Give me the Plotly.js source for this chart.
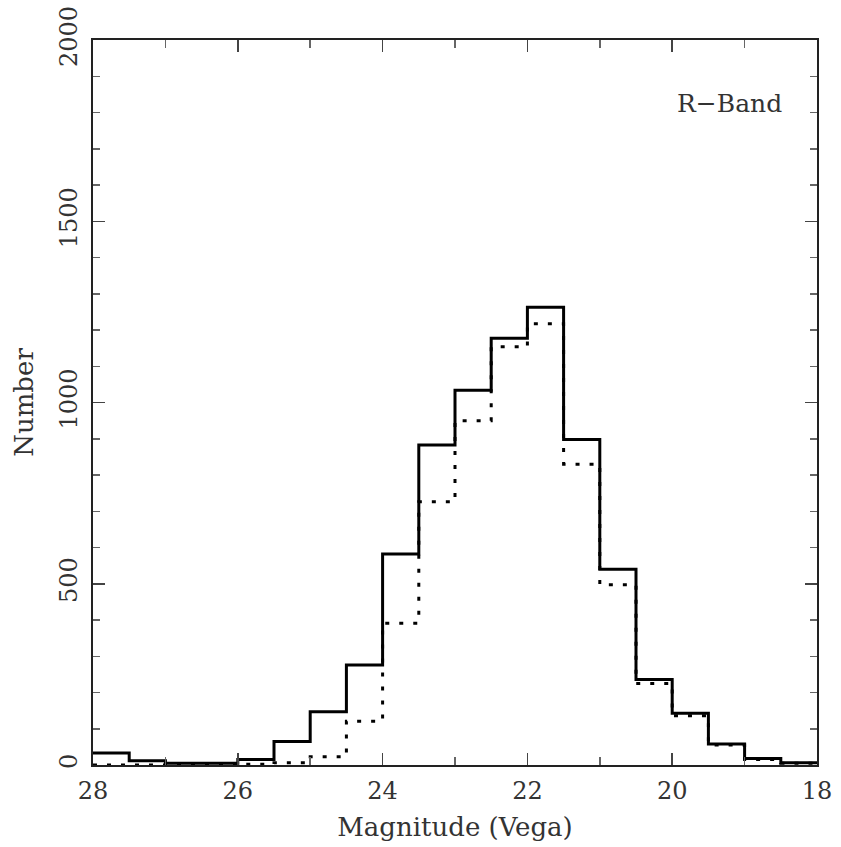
<!DOCTYPE html>
<html>
<head>
<meta charset="utf-8">
<script src="https://cdn.plot.ly/plotly-3.0.1.min.js"></script>
<style>html,body{margin:0;padding:0;background:#fff;}#chart{width:841px;height:847px;}</style>
</head>
<body>
<div id="chart"></div>
<script>
// Bin edges (magnitude, Vega), 0.5 mag bins
var binEdges = [28, 27.5, 27, 26.5, 26, 25.5, 25, 24.5, 24, 23.5, 23, 22.5, 22, 21.5, 21, 20.5, 20, 19.5, 19, 18.5, 18];
// Counts per bin (solid histogram)
var solidCounts = [33, 12, 5, 5, 15, 65, 147, 276, 582, 883, 1034, 1177, 1263, 898, 540, 236, 143, 58, 18, 6];
// Counts per bin (dotted histogram)
var dottedCounts = [0, 0, 0, 0, 2, 6, 23, 121, 391, 726, 950, 1154, 1217, 830, 497, 225, 136, 55, 15, 5];
var xTickVals = [28, 26, 24, 22, 20, 18];
var yTickVals = [0, 500, 1000, 1500, 2000];
var bandLabel = "R\u2212Band";

function stepY(counts) {
  return counts.concat([counts[counts.length - 1]]);
}

var FONT = "DejaVu Serif";

var traces = [
  {
    x: binEdges, y: stepY(dottedCounts), type: "scatter", mode: "lines",
    line: {shape: "hv", color: "#000", width: 3, dash: "4px,10px"},
    hoverinfo: "skip", cliponaxis: false
  },
  {
    x: binEdges, y: stepY(solidCounts), type: "scatter", mode: "lines",
    line: {shape: "hv", color: "#000", width: 3},
    hoverinfo: "skip", cliponaxis: false
  }
];

var axisCommon = {
  showgrid: false, zeroline: false, showline: true, linecolor: "#222", linewidth: 2,
  mirror: "ticks", ticks: "inside", tickcolor: "#444", tickwidth: 1.5,
  tickfont: {family: FONT, size: 24, color: "#333"}
};

var layout = {
  width: 841, height: 847,
  margin: {l: 93, r: 24, t: 40, b: 82},
  paper_bgcolor: "#fff", plot_bgcolor: "#fff",
  showlegend: false,
  xaxis: Object.assign({}, axisCommon, {
    range: [28, 18], autorange: false,
    tickmode: "array", tickvals: xTickVals, ticktext: xTickVals.map(String),
    ticklen: 12, ticklabelstandoff: 3,
    minor: {dtick: 1, tick0: 18, ticklen: 8, ticks: "inside", tickcolor: "#666", tickwidth: 1.5},
    title: {text: "Magnitude (Vega)", font: {family: FONT, size: 26, color: "#333"}, standoff: 14}
  }),
  yaxis: Object.assign({}, axisCommon, {
    range: [0, 2000], autorange: false,
    tickmode: "array", tickvals: yTickVals, ticktext: yTickVals.map(String),
    ticklen: 12, tickangle: -90, ticklabelstandoff: 4,
    minor: {dtick: 100, tick0: 0, ticklen: 7, ticks: "inside", tickcolor: "#666", tickwidth: 1.5},
    title: {text: "Number", font: {family: FONT, size: 26, color: "#333"}, standoff: 14}
  }),
  annotations: [{
    xref: "paper", yref: "paper", x: 0.955, y: 0.913, xanchor: "right", yanchor: "middle",
    text: bandLabel, showarrow: false, font: {family: FONT, size: 25, color: "#333"}
  }]
};

Plotly.newPlot("chart", traces, layout, {staticPlot: true, displayModeBar: false});
</script>
</body>
</html>
